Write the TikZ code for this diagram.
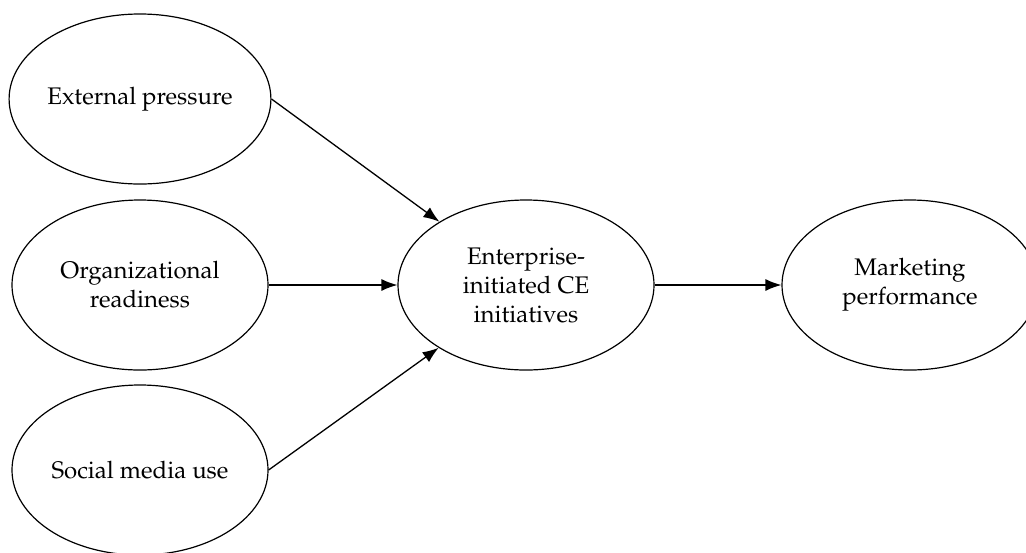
\documentclass[tikz,border=0pt]{standalone}
\usepackage[T1]{fontenc}
\usepackage{mathpazo}
\usetikzlibrary{shapes.geometric,arrows.meta}
\begin{document}
\begin{tikzpicture}[x=0.5pt,y=-0.5pt,
  construct/.style={draw, line width=0.6pt, ellipse, minimum width=128pt, minimum height=85pt, inner sep=0pt, align=center, font=\fontsize{12}{14.5}\selectfont},
  path/.style={draw, line width=0.65pt, -{Latex[length=8pt,width=6pt]}}]
\useasboundingbox (0,0) rectangle (1026,552);
\node[construct] (ext) at (140,99) {External pressure};
\node[construct] (org) at (140,285) {Organizational\\readiness};
\node[construct] (soc) at (140,470) {Social media use};
\node[construct] (ent) at (526,285) {Enterprise-\\initiated CE\\initiatives};
\node[construct] (mkt) at (910,285) {Marketing\\performance};
\draw[path] (ext.east) -- (ent);
\draw[path] (org) -- (ent);
\draw[path] (soc.east) -- (ent);
\draw[path] (ent) -- (mkt);
\end{tikzpicture}
\end{document}
